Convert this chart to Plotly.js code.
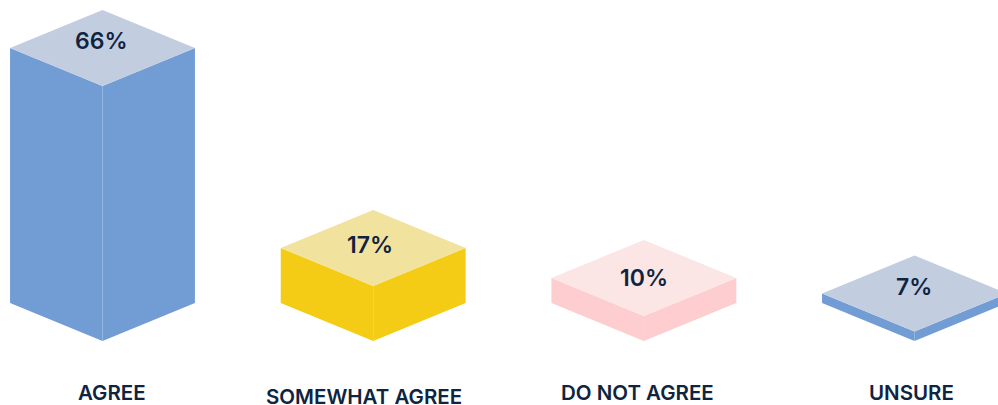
<!DOCTYPE html>
<html>
<head>
<meta charset="utf-8">
<script src="https://cdn.plot.ly/plotly-3.0.1.min.js"></script>
<style>html,body{margin:0;padding:0;background:#fff}#chart{width:998px;height:405px}</style>
</head>
<body>
<div id="chart"></div>
<script>
// Data
const categories = ['AGREE', 'SOMEWHAT AGREE', 'DO NOT AGREE', 'UNSURE'];
const percentValues = [66, 17, 10, 7];
// Bar top levels on the picture's own value axis (the source art is not strictly linear)
const drawnLevels = [66, 17.95, 10.74, 7];
const baseLevel = 4.71;
const sideColors = ['#729cd4', '#f4cc16', '#fdcdcf', '#729cd4'];
const topColors = ['#c2cde0', '#f1e29e', '#fce5e5', '#c2cde0'];

// Isometric box proportions, in axis units
const halfWidth = 0.3415;
const halfDepth = 9.13;

const INK = '#0f2440';
const FONT = 'Inter, "Noto Sans", sans-serif';

function face(xs, ys, color) {
  return {
    type: 'scatter', mode: 'lines', x: xs, y: ys, fill: 'toself', fillcolor: color,
    line: {width: 0, color: color}, hoverinfo: 'skip', showlegend: false
  };
}

const traces = [];
categories.forEach((c, i) => {
  const top = drawnLevels[i], b = baseLevel, w = halfWidth, d = halfDepth;
  traces.push(face([i - w, i, i, i - w, i - w], [top + d, top, b, b + d, top + d], sideColors[i]));
  traces.push(face([i, i + w, i + w, i, i], [top, top + d, b + d, b, top], sideColors[i]));
  traces.push(face([i - w, i, i + w, i, i - w], [top + d, top + 2 * d, top + d, top, top + d], topColors[i]));
});

const pctShift = [[-1, 7], [-3.5, 3], [0, 0], [-1, 7]];
const catShift = [[9.5, 3], [-9, -1], [-6, 3], [-3.5, 3]];

const annotations = [];
categories.forEach((c, i) => {
  annotations.push({
    x: i, y: drawnLevels[i] + halfDepth, xref: 'x', yref: 'y', text: percentValues[i] + '%',
    showarrow: false, xanchor: 'center', yanchor: 'middle',
    xshift: pctShift[i][0], yshift: pctShift[i][1],
    font: {family: FONT, size: 23, color: INK, weight: 600}
  });
  annotations.push({
    x: i, y: -8.3, xref: 'x', yref: 'y', text: c,
    showarrow: false, xanchor: 'center', yanchor: 'middle',
    xshift: catShift[i][0], yshift: catShift[i][1], height: 18, valign: 'middle',
    font: {family: FONT, size: 20.5, color: INK, weight: 600}
  });
});

const layout = {
  width: 998, height: 405,
  margin: {l: 0, r: 0, t: 0, b: 0},
  paper_bgcolor: '#ffffff', plot_bgcolor: '#ffffff',
  showlegend: false,
  xaxis: {range: [-0.3787, 3.3084], visible: false, fixedrange: true},
  yaxis: {range: [-10.67, 86.68], visible: false, fixedrange: true},
  annotations: annotations
};

Plotly.newPlot('chart', traces, layout, {displayModeBar: false, staticPlot: true});
</script>
</body>
</html>
